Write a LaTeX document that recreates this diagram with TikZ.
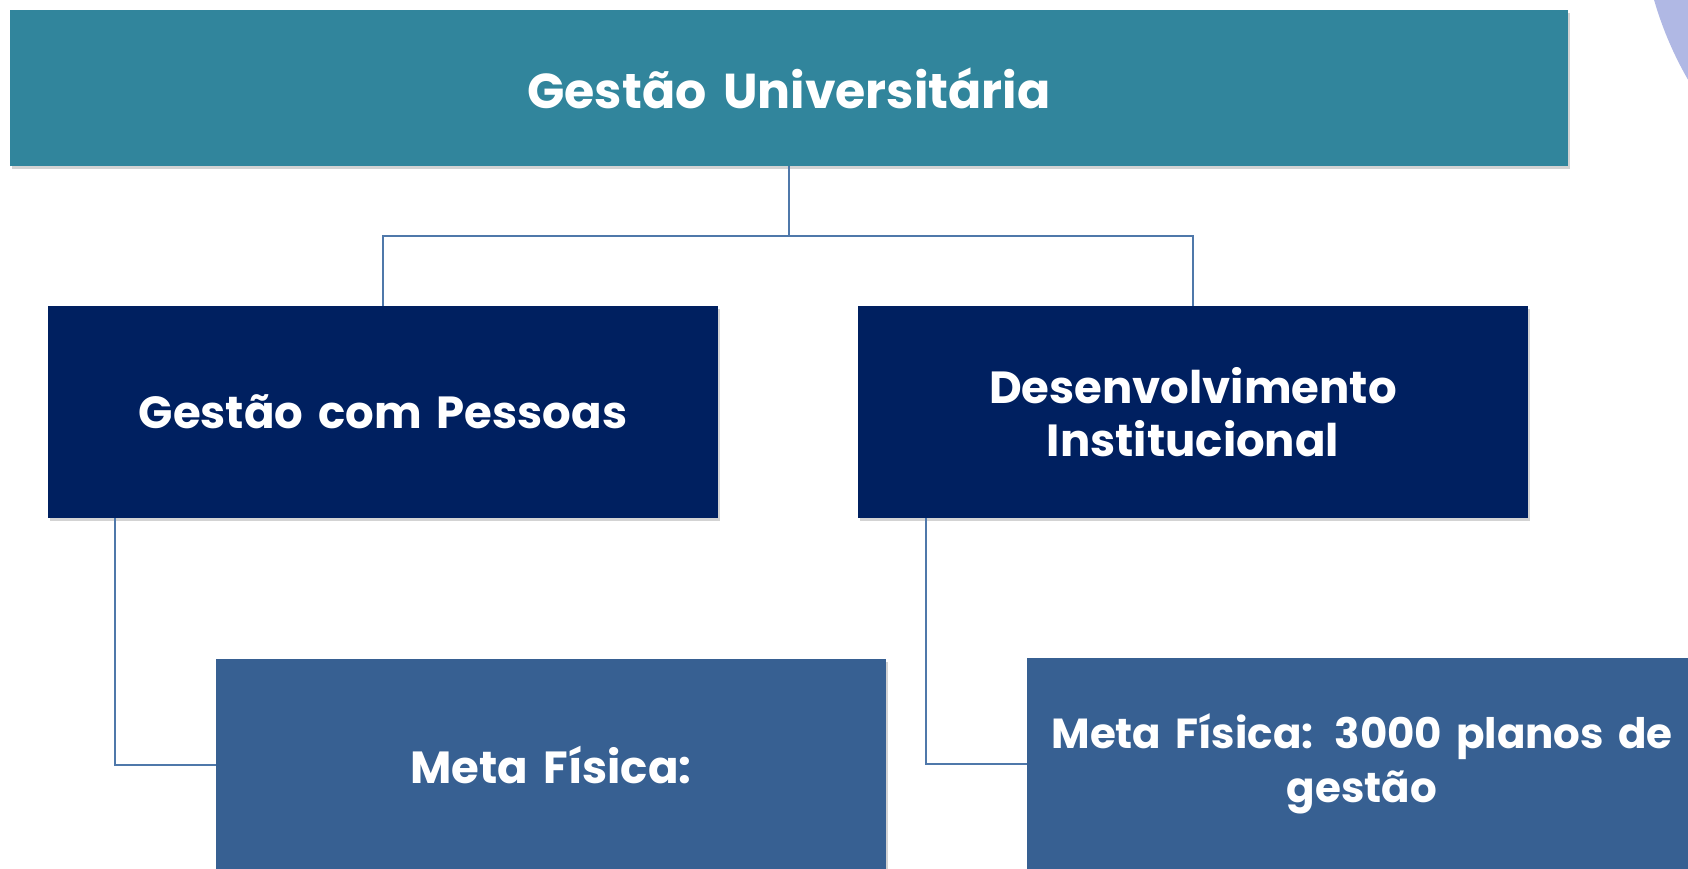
\documentclass[tikz,border=0pt]{standalone}
\usepackage{fontspec}
\setmainfont{Poppins}
\usepackage{tikz}
\usetikzlibrary{shadows}
\definecolor{tl}{RGB}{49,133,156}
\definecolor{nv}{RGB}{0,32,96}
\definecolor{bl}{RGB}{55,96,146}
\definecolor{lk}{RGB}{79,120,170}
\definecolor{lil}{RGB}{176,184,228}
\tikzset{b/.style={rectangle,inner sep=0pt,minimum width=670,minimum height=212,text width=660,text=white,align=center,font=\fontsize{45}{53}\selectfont\bfseries,drop shadow={shadow xshift=2pt,shadow yshift=-3pt,opacity=.35}}}
\tikzset{k/.style={draw=lk,line width=2pt}}

\begin{document}
\begin{tikzpicture}[x=1pt,y=-1pt]
            \useasboundingbox (0,0) rectangle (1688,869);
            \clip (0,0) rectangle (1688,869);
            \fill[lil] (2000,-100) circle (360);
            \node[b,fill=tl,minimum width=1558,minimum height=156,font=\fontsize{49}{53}\selectfont\bfseries] (gu) at (789,88) {Gestão Universitária};
            \node[b,fill=nv] (gp) at (383,412) {Gestão com Pessoas};
            \node[b,fill=nv] (di) at (1193,412) {Desenvolvimento\\Institucional};
            \node[b,fill=bl] (m1) at (551,765) {Meta Física:};
            \node[b,fill=bl,text width=670,font=\fontsize{42}{54}\selectfont\bfseries] (m2) at (1362,764) {Meta Física: 3000 planos de\\gestão};
            \draw[k] (gu.south) -- ++(0,70) -| (gp.north);
            \draw[k] (gu.south) -- ++(0,70) -| (di.north);
            \draw[k] ([xshift=67pt]gp.south west) |- (m1.west);
            \draw[k] ([xshift=68pt]di.south west) |- (m2.west);
          \end{tikzpicture}
\end{document}
